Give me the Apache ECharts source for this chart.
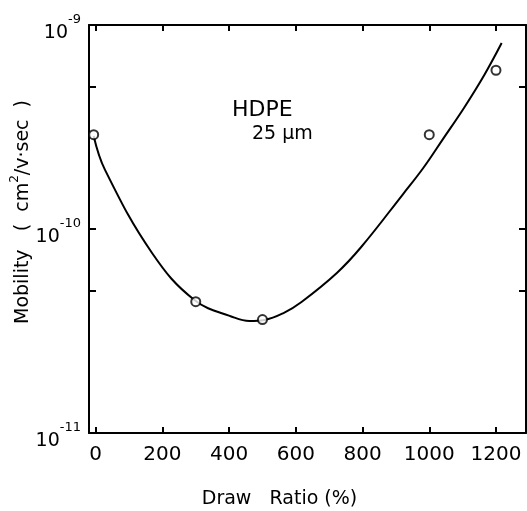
<!DOCTYPE html>
<html><head><meta charset="utf-8">
<script src="https://cdn.jsdelivr.net/npm/echarts@6/dist/echarts.min.js"></script>
<style>html,body{margin:0;padding:0;background:#fff}#c{width:527px;height:511px}</style>
</head><body><div id="c"></div>
<script>
const drawRatioTicks = [0, 200, 400, 600, 800, 1000, 1200];
const mobilityLabelTicks = [1e-11, 1e-10, 1e-9];
const mobilityTickMarks = [1e-11, 5e-11, 1e-10, 5e-10, 1e-9];
const pointDrawRatio = [-6, 300, 500, 1000, 1200];
const pointMobility = [2.9e-10, 4.4e-11, 3.6e-11, 2.9e-10, 6.0e-10];
const curveDrawRatio = [-6, 28, 169, 296, 416, 461, 506, 563, 617, 723, 796, 921, 982, 1043, 1104, 1165, 1217];
const curveMobility = [2.86e-10, 1.95e-10, 7.63e-11, 4.49e-11, 3.68e-11, 3.54e-11, 3.58e-11, 3.87e-11, 4.39e-11, 6.09e-11, 8.16e-11, 1.48e-10, 1.99e-10, 2.79e-10, 3.92e-10, 5.69e-10, 8.16e-10];

const FONT = 'DejaVu Sans';
const chart = echarts.init(document.getElementById('c'), null, {renderer: 'canvas'});
const blk = {color: '#000', width: 2};
function expLabel(v) {
  const e = Math.round(Math.log10(v));
  return '{b|10}{s|' + e + '}';
}
const labelRich = {
  b: {fontFamily: FONT, fontSize: 19, color: '#000', lineHeight: 30, verticalAlign: 'bottom'},
  s: {fontFamily: FONT, fontSize: 13, color: '#000', lineHeight: 30, verticalAlign: 'top'}
};
const xCommon = {
  type: 'value', min: -20, max: 1290,
  axisLine: {show: true, onZero: false, lineStyle: blk},
  axisTick: {show: true, inside: true, length: 6, customValues: drawRatioTicks, lineStyle: blk},
  splitLine: {show: false}
};
const yCommon = {
  type: 'log', logBase: 10, min: 1e-11, max: 1e-9,
  axisLine: {show: true, onZero: false, lineStyle: blk},
  axisTick: {show: true, inside: true, length: 7, customValues: mobilityTickMarks, lineStyle: blk},
  splitLine: {show: false}, minorTick: {show: false}
};
const pts = pointDrawRatio.map((x, i) => [x, pointMobility[i]]);
const curve = curveDrawRatio.map((x, i) => [x, curveMobility[i]]);
chart.setOption({
  animation: false,
  backgroundColor: '#fff',
  grid: {left: 89, right: 1, top: 25, bottom: 78, containLabel: false, outerBoundsMode: 'none'},
  xAxis: [
    Object.assign({}, xCommon, {
      position: 'bottom',
      axisLabel: {customValues: drawRatioTicks, formatter: v => String(v), fontFamily: FONT, fontSize: 20, color: '#000', margin: 12},
      name: 'Draw   Ratio (%)', nameLocation: 'middle', nameGap: 57, nameMoveOverlap: false,
      nameTextStyle: {fontFamily: FONT, fontSize: 19, color: '#000', padding: [0, 56, 0, 0]}
    }),
    Object.assign({}, xCommon, {position: 'top', axisLabel: {show: false}})
  ],
  yAxis: [
    Object.assign({}, yCommon, {
      position: 'left',
      axisLabel: {customValues: mobilityLabelTicks, formatter: expLabel, rich: labelRich, margin: 8, padding: [6, 0, 0, 0]},
      name: 'Mobility   (  cm{sup|2}/v·sec  )', nameLocation: 'middle', nameGap: 52, nameRotate: 90, nameMoveOverlap: false,
      nameTextStyle: {fontFamily: FONT, fontSize: 19, color: '#000', padding: [0, 0, 0, 34],
        rich: {sup: {fontFamily: FONT, fontSize: 12, color: '#000', verticalAlign: 'top', lineHeight: 28}}}
    }),
    Object.assign({}, yCommon, {position: 'right', axisLabel: {show: false}})
  ],
  graphic: [
    {type: 'text', left: 232, top: 99, style: {text: 'HDPE', font: '22px "DejaVu Sans"', fill: '#000'}},
    {type: 'text', left: 252, top: 125, style: {text: '25 µm', font: '19px "DejaVu Sans"', fill: '#000'}}
  ],
  series: [
    {type: 'line', data: curve, smooth: 0.4, showSymbol: false, symbol: 'none',
      lineStyle: {color: '#000', width: 2}, z: 2},
    {type: 'scatter', data: pts, symbol: 'circle', symbolSize: 9,
      itemStyle: {color: '#fff', borderColor: '#000', borderWidth: 2}, z: 3}
  ]
});
</script></body></html>
